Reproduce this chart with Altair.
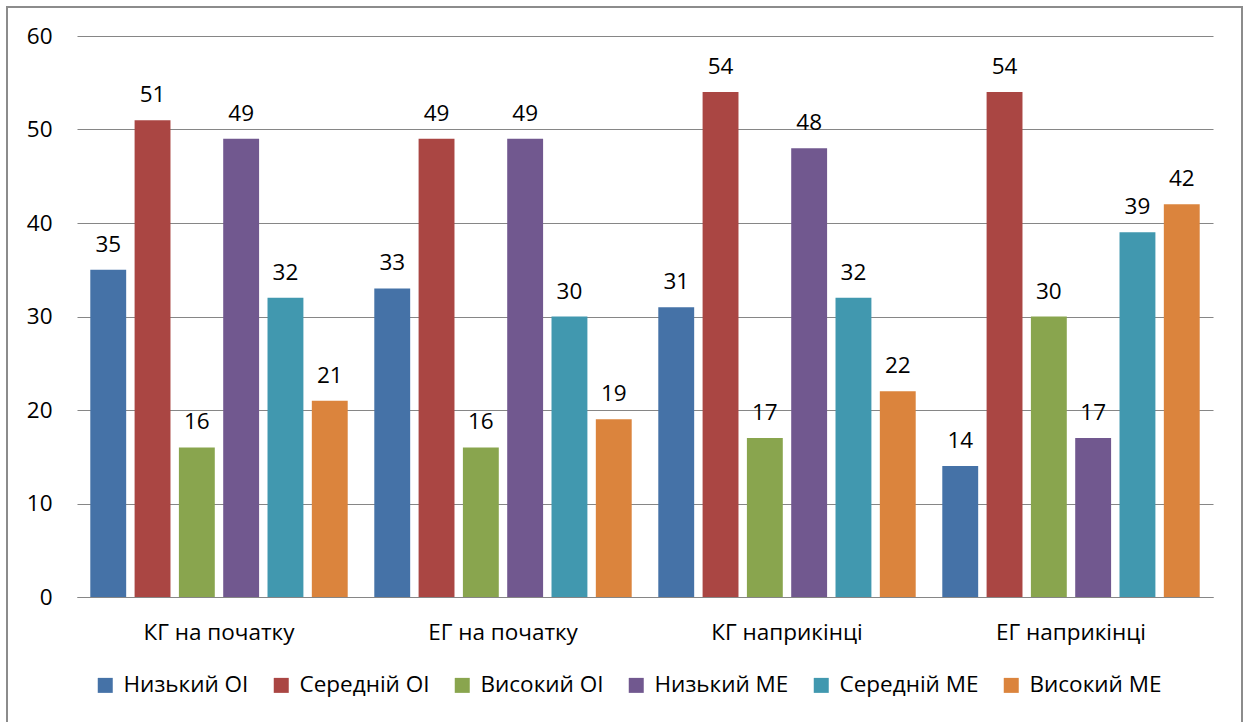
import altair as alt
import pandas as pd

groups = ["КГ на початку", "ЕГ на початку", "КГ наприкінці", "ЕГ наприкінці"]
series = ["Низький ОІ", "Середній ОІ", "Високий ОІ", "Низький МЕ", "Середній МЕ", "Високий МЕ"]
colors = ["#4572A7", "#AA4643", "#89A54E", "#71588F", "#4198AF", "#DB843D"]
values = [
    [35, 51, 16, 49, 32, 21],
    [33, 49, 16, 49, 30, 19],
    [31, 54, 17, 48, 32, 22],
    [14, 54, 30, 17, 39, 42],
]

rows = []
for g, vals in zip(groups, values):
    for s, v in zip(series, vals):
        rows.append({"group": g, "series": s, "value": v})
df = pd.DataFrame(rows)

FONT = "Open Sans"
FS = 22.5
W, H = 1136, 561

x = alt.X("group:N", sort=groups, title=None,
          scale=alt.Scale(paddingInner=0, paddingOuter=0),
          axis=alt.Axis(labelAngle=0, ticks=False, domain=True, domainColor="#868686",
                        domainWidth=1.2, labelFontSize=FS, labelFont=FONT,
                        labelColor="#000000", labelPadding=24))
xo = alt.XOffset("series:N", sort=series,
                 scale=alt.Scale(paddingInner=0.19, paddingOuter=0.3))
y = alt.Y("value:Q", title=None,
          scale=alt.Scale(domain=[0, 60]),
          axis=alt.Axis(values=[0, 10, 20, 30, 40, 50, 60], ticks=False, domain=False,
                        gridColor="#868686", gridWidth=1.2, labelFontSize=FS, labelFont=FONT,
                        labelColor="#000000", labelPadding=25))
color = alt.Color("series:N", sort=series,
                  scale=alt.Scale(domain=series, range=colors),
                  legend=alt.Legend(title=None, orient="none", direction="horizontal",
                                    legendX=17, legendY=638, symbolType="square",
                                    symbolSize=225, symbolStrokeWidth=0, labelFontSize=FS,
                                    labelFont=FONT, labelColor="#000000", columnPadding=21,
                                    labelOffset=7, labelLimit=300))

bars = alt.Chart(df).mark_bar().encode(x=x, xOffset=xo, y=y, color=color)
labels = alt.Chart(df).mark_text(baseline="alphabetic", dy=-18, fontSize=FS, font=FONT,
                                 color="#000000").encode(
    x=alt.X("group:N", sort=groups), xOffset=alt.XOffset("series:N", sort=series),
    y="value:Q", text="value:Q")

border = alt.Chart(pd.DataFrame({"a": [0]})).mark_rect(
    fill=None, stroke="#8c8c8c", strokeWidth=2, clip=False).encode(
    x=alt.value(-70), x2=alt.value(1165), y=alt.value(-29), y2=alt.value(700))

chart = alt.layer(border, bars, labels).properties(
    width=W, height=H,
    autosize=alt.AutoSizeParams(type="none"),
    padding={"left": 77, "top": 36, "right": 30, "bottom": 125},
    background="#ffffff",
).configure_view(stroke=None)

chart.save("out.html", embed_options={"renderer": "svg", "actions": False})
